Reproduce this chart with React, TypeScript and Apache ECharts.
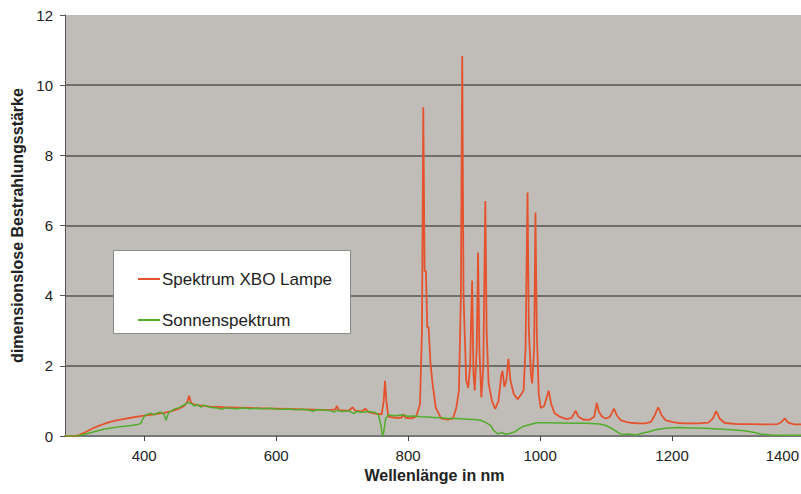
import React, { useEffect, useRef } from "react";
import * as echarts from "echarts";

const yTicks = [0, 2, 4, 6, 8, 10, 12];
const xTicks = [400, 600, 800, 1000, 1200, 1400];

const xboWavelengths = [
  280, 295, 300, 310, 320, 330, 340, 350, 360, 370, 380, 390, 400, 410, 420, 430, 440, 450, 460, 465, 468, 471, 475, 480, 490, 500,
  520, 540, 560, 580, 600, 620, 640, 660, 680, 690, 692, 695, 710, 716, 720, 730, 735, 740, 750, 760, 763, 765, 767, 770, 780, 790,
  793, 796, 805, 812, 818, 821, 823, 825, 827, 829, 831, 834, 837, 842, 850, 860, 868, 873, 877, 880, 882, 884, 888, 891, 894, 897,
  899, 901, 904, 906, 908, 911, 914, 917, 919, 922, 927, 932, 937, 941, 943, 946, 949, 952, 955, 960, 966, 970, 975, 978, 981, 983,
  986, 988, 991, 993, 995, 998, 1001, 1006, 1010, 1013, 1017, 1022, 1030, 1040, 1048, 1054, 1058, 1065, 1075, 1082, 1086, 1089, 1094,
  1100, 1106, 1112, 1116, 1122, 1130, 1140, 1150, 1160, 1168, 1174, 1179, 1184, 1190, 1200, 1210, 1220, 1240, 1255, 1262, 1267, 1272,
  1280, 1300, 1320, 1340, 1360, 1366, 1371, 1376, 1385, 1400,
];
const xboValues = [
  0, 0, 0.02, 0.1, 0.2, 0.28, 0.35, 0.41, 0.45, 0.49, 0.52, 0.55, 0.58, 0.6, 0.63, 0.66, 0.7, 0.76, 0.85, 0.95, 1.15, 0.95, 0.9, 0.88, 0.86, 0.84,
  0.82, 0.81, 0.8, 0.79, 0.78, 0.77, 0.76, 0.75, 0.74, 0.76, 0.86, 0.74, 0.72, 0.82, 0.72, 0.7, 0.78, 0.68, 0.64, 0.62, 1.0, 1.57, 1.0, 0.55, 0.52, 0.52,
  0.62, 0.52, 0.5, 0.55, 0.9, 3.0, 9.37, 4.7, 4.7, 3.1, 3.1, 2.06, 1.5, 0.8, 0.5, 0.47, 0.5, 0.8, 1.3, 4.0, 10.83, 4.0, 1.6, 1.37, 2.0, 4.43,
  1.8, 1.3, 2.5, 5.23, 2.5, 1.1, 2.0, 6.7, 3.0, 1.5, 1.0, 0.77, 1.0, 1.7, 1.86, 1.4, 1.6, 2.2, 1.6, 1.2, 1.05, 1.15, 1.3, 2.5, 6.94, 3.0,
  1.8, 1.5, 2.5, 6.37, 3.0, 1.2, 0.8, 0.85, 1.1, 1.29, 0.9, 0.65, 0.55, 0.48, 0.52, 0.72, 0.55, 0.47, 0.46, 0.55, 0.94, 0.7, 0.55,
  0.5, 0.55, 0.78, 0.6, 0.45, 0.4, 0.37, 0.36, 0.36, 0.4, 0.6, 0.82, 0.6, 0.45, 0.4, 0.37, 0.36, 0.36, 0.38, 0.5, 0.71, 0.5,
  0.37, 0.34, 0.34, 0.33, 0.34, 0.4, 0.5, 0.38, 0.33, 0.33,
];

const sunWavelengths = [
  280, 290, 300, 310, 320, 330, 340, 350, 360, 370, 380, 390, 395, 398, 402, 410, 415, 420, 425, 430, 433, 437, 442, 447, 452, 457, 462,
  467, 472, 476, 480, 486, 490, 495, 500, 510, 518, 522, 530, 540, 550, 560, 570, 580, 590, 600, 610, 620, 630, 640, 650, 656, 660,
  670, 680, 688, 692, 700, 710, 718, 722, 730, 740, 750, 755, 759, 761, 763, 766, 770, 780, 790, 800, 810, 820, 830, 840, 850, 860,
  870, 880, 890, 900, 910, 918, 925, 930, 936, 942, 948, 955, 962, 968, 975, 985, 995, 1010, 1030, 1050, 1070, 1090, 1100, 1110,
  1118, 1125, 1135, 1145, 1155, 1165, 1175, 1190, 1210, 1230, 1250, 1270, 1290, 1310, 1325, 1335, 1350, 1370, 1400,
];
const sunValues = [
  0, 0, 0.01, 0.05, 0.1, 0.15, 0.2, 0.23, 0.26, 0.28, 0.3, 0.33, 0.36, 0.5, 0.6, 0.65, 0.6, 0.66, 0.68, 0.62, 0.45, 0.66, 0.72, 0.78, 0.8, 0.85, 0.9,
  0.96, 0.92, 0.85, 0.9, 0.82, 0.88, 0.85, 0.82, 0.8, 0.76, 0.8, 0.79, 0.78, 0.8, 0.78, 0.79, 0.78, 0.79, 0.77, 0.76, 0.77, 0.75, 0.76, 0.74, 0.7, 0.75,
  0.74, 0.73, 0.68, 0.73, 0.7, 0.72, 0.64, 0.7, 0.68, 0.7, 0.67, 0.6, 0.3, 0.0, 0.1, 0.5, 0.6, 0.58, 0.6, 0.56, 0.57, 0.55, 0.54, 0.53, 0.52, 0.5,
  0.5, 0.49, 0.48, 0.47, 0.45, 0.38, 0.3, 0.15, 0.06, 0.1, 0.05, 0.08, 0.12, 0.2, 0.28, 0.33, 0.38, 0.38, 0.37, 0.36, 0.36, 0.34, 0.3, 0.2,
  0.1, 0.04, 0.06, 0.03, 0.08, 0.12, 0.18, 0.22, 0.24, 0.23, 0.22, 0.2, 0.18, 0.15, 0.1, 0.05, 0.03, 0.02, 0.02,
];

const seriesNames = ["Spektrum XBO Lampe", "Sonnenspektrum"];

export default function App() {
  const ref = useRef<HTMLDivElement>(null);
  useEffect(() => {
    if (!ref.current) return;
    const chart = echarts.init(ref.current, null, { renderer: "svg" });
    const font = "Liberation Sans, Arial, sans-serif";
    const lastTick = xTicks[xTicks.length - 1];
    chart.setOption({
      animation: false,
      backgroundColor: "#ffffff",
      textStyle: { fontFamily: font },
      grid: {
        left: 65,
        right: -3,
        top: 15,
        bottom: 58,
        show: true,
        backgroundColor: "#c0bdb9",
        borderWidth: 0,
        outerBoundsMode: "none",
        containLabel: false,
      },
      xAxis: {
        type: "value",
        min: 280,
        max: 1400,
        name: "Wellenlänge in nm",
        nameLocation: "middle",
        nameGap: 31,
        nameTextStyle: { fontFamily: font, fontWeight: "bold", fontSize: 16, color: "#222" },
        axisLine: { show: true, onZero: false, lineStyle: { color: "#777", width: 2 } },
        axisTick: { show: true, length: 5, customValues: xTicks, lineStyle: { color: "#444" } },
        axisLabel: {
          fontFamily: font,
          fontSize: 15,
          color: "#222",
          margin: 12,
          customValues: xTicks,
          formatter: (v: number) => (v === lastTick ? "{last|" + v + "}" : String(v)),
          rich: {
            last: { fontFamily: font, fontSize: 15, color: "#222", padding: [0, 5, 0, 0] },
          },
          hideOverlap: false,
          alignMaxLabel: "right",
        },
        splitLine: { show: false },
      },
      yAxis: {
        type: "value",
        min: 0,
        max: 12,
        interval: 2,
        name: "dimensionslose Bestrahlungsstärke",
        nameLocation: "middle",
        nameGap: 40,
        nameTextStyle: { fontFamily: font, fontWeight: "bold", fontSize: 16, color: "#222" },
        axisLine: { show: true, lineStyle: { color: "#555", width: 1 } },
        axisTick: { show: true, length: 5, lineStyle: { color: "#555" } },
        axisLabel: { fontFamily: font, fontSize: 15, color: "#222", margin: 12, customValues: yTicks },
        splitLine: {
          show: true,
          lineStyle: {
            color: ["transparent", "#555", "#555", "#555", "#555", "#555", "transparent"],
            width: 1.5,
          },
        },
      },
      legend: {
        orient: "vertical",
        left: 133,
        top: 265,
        itemGap: 23,
        itemWidth: 22,
        itemHeight: 2,
        icon: "rect",
        textStyle: { fontFamily: font, fontSize: 17, lineHeight: 18, color: "#222", padding: [0, 0, 0, -3] },
        data: seriesNames,
        z: 10,
      },
      graphic: [
        {
          type: "rect",
          left: 113,
          top: 250,
          shape: { width: 237, height: 83 },
          style: { fill: "#ffffff", stroke: "#8a8a8a", lineWidth: 1 },
          z: 5,
        },
      ],
      series: [
        {
          name: seriesNames[0],
          type: "line",
          data: xboWavelengths.map((w, i) => [w, xboValues[i]]),
          showSymbol: false,
          symbol: "none",
          lineStyle: { color: "#e5532e", width: 1.8 },
          itemStyle: { color: "#e5532e" },
          z: 3,
        },
        {
          name: seriesNames[1],
          type: "line",
          data: sunWavelengths.map((w, i) => [w, sunValues[i]]),
          showSymbol: false,
          symbol: "none",
          lineStyle: { color: "#52ad2c", width: 1.5 },
          itemStyle: { color: "#52ad2c" },
          z: 4,
        },
      ],
    });
    return () => chart.dispose();
  }, []);
  return (
    <div
      ref={ref}
      style={{ position: "fixed", left: 0, top: 0, width: 801, height: 494, overflow: "hidden" }}
    />
  );
}
